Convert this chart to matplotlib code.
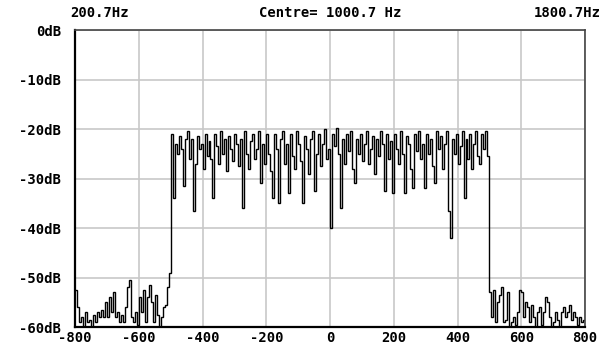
import matplotlib.pyplot as plt
import numpy as np

# spectrum levels (dB), 256 bins of 6.25 Hz from -800 to +800 Hz offset
left_noise = [-52.5, -56, -59, -58, -60, -57, -59, -58.5, -60, -57.5,
              -59, -57, -58, -56.5, -58, -55, -58, -54, -57, -53,
              -58, -57, -59, -57.5, -59, -56, -52, -50.5, -58, -59,
              -57, -59.5, -54, -57, -52.5, -59, -54, -51.5, -55, -59,
              -53.5, -57.5, -60, -58, -56, -55.5, -52, -49]

passband = [-21, -34, -23, -25, -21.5, -24, -31.5, -22, -20.5, -26,
            -22, -36.5, -27, -21.5, -24, -23, -28, -21, -25.5, -22.5,
            -26, -34, -21, -23.5, -27, -20.5, -25, -22, -28.5, -21.5,
            -24, -26.5, -21, -23, -27.5, -22, -36, -20.5, -25, -28,
            -22.5, -21, -26, -24, -20.5, -31, -23, -27, -21, -25,
            -28.5, -34, -21, -24, -35, -22, -20.5, -27, -23, -33,
            -21, -25.5, -28, -20.5, -23, -26.5, -35, -21.5, -24, -29,
            -22, -20.5, -32.5, -25, -21, -27.5, -23, -20, -26, -24,
            -40, -21, -23.5, -19.8, -25, -36, -22, -27, -21, -24.5,
            -20.5, -28, -31, -22, -25, -21, -26.5, -23, -20.5, -27,
            -24, -21.5, -29, -22, -25.5, -20.5, -23, -32.5, -21, -26,
            -22.5, -33, -21, -24, -27, -20.5, -25, -33, -21.5, -23,
            -28, -32, -21, -24.5, -20.5, -26, -23, -32, -21, -25,
            -22, -27.5, -31, -20.5, -24, -21.5, -28, -23, -20.5, -36.5,
            -42, -22, -25, -21, -27, -23.5, -20.5, -34, -22, -26,
            -21, -28, -23, -20.5, -25.5, -27, -21, -24, -20.5, -25.5]

right_noise = [-53, -58, -52.5, -59, -55, -53.5, -52, -59, -58.5, -53,
               -60, -59, -58, -59.5, -57, -52.5, -53, -58, -55, -56,
               -59, -55.5, -58, -60, -57, -56, -59.5, -57, -54, -55,
               -58, -60, -59, -57, -58.5, -60, -57, -56, -58, -57,
               -55.5, -58.5, -57, -58, -59.5, -58, -59, -58.5]

levels = np.array(left_noise + passband + right_noise)
edges = np.linspace(-800, 800, len(levels) + 1)

xticks = [-800, -600, -400, -200, 0, 200, 400, 600, 800]
yticks = [0, -10, -20, -30, -40, -50, -60]

font = dict(family='DejaVu Sans Mono', weight='bold', size=10)

fig = plt.figure(figsize=(6.05, 3.49), dpi=100)
ax = fig.add_axes([0.124, 0.063, 0.843, 0.851])

ax.stairs(levels, edges, baseline=None, color='black', lw=1.0)

ax.set_xlim(-800, 800)
ax.set_ylim(-60, 0)
ax.set_xticks(xticks)
ax.set_yticks(yticks)
ax.set_xticklabels([str(t) for t in xticks], fontdict=font)
ax.set_yticklabels(['%ddB' % t for t in yticks], fontdict=font)
ax.tick_params(length=0, pad=10, axis='y')
ax.tick_params(length=0, pad=3, axis='x')
ax.grid(True, color='#c8c8c8', lw=1.2)
ax.set_axisbelow(True)

for side in ['top', 'right']:
    ax.spines[side].set_color('#444444')
    ax.spines[side].set_linewidth(1.2)
for side in ['left', 'bottom']:
    ax.spines[side].set_color('black')
    ax.spines[side].set_linewidth(1.6)

fig.text(0.116, 0.963, '200.7Hz', ha='left', va='center', **font)
fig.text(0.545, 0.963, 'Centre= 1000.7 Hz', ha='center', va='center', **font)
fig.text(0.993, 0.963, '1800.7Hz', ha='right', va='center', **font)

plt.savefig('out.png', dpi=100)
